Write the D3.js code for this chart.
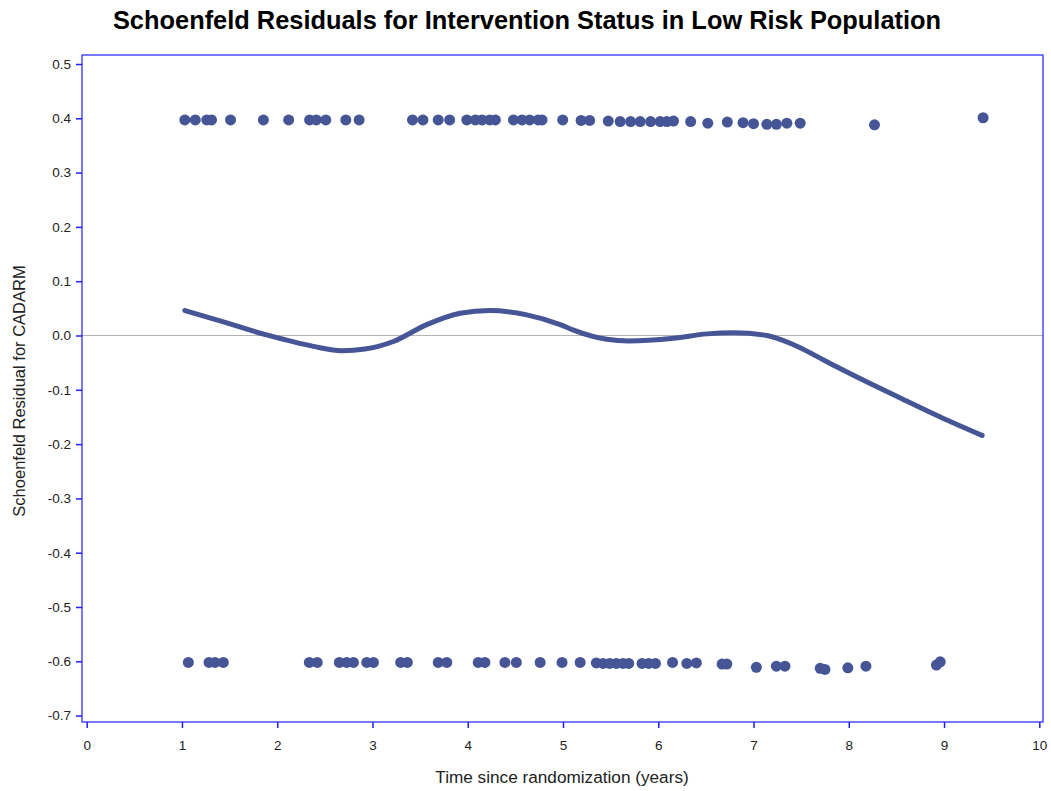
<!DOCTYPE html>
<html>
<head>
<meta charset="utf-8">
<script src="https://cdn.jsdelivr.net/npm/d3@7"></script>
<style>
  body { margin: 0; background: #fff; }
  text { font-family: "Liberation Sans", Arial, sans-serif; }
</style>
</head>
<body>
<div id="chart"></div>
<script>
const width = 1051;
const height = 791;

// residuals at +0.4 (intervention events)
const topTimes = [1.03, 1.14, 1.26, 1.31, 1.51, 1.855, 2.12, 2.34, 2.41, 2.51, 2.72, 2.86,
  3.42, 3.53, 3.69, 3.81, 3.99, 4.08, 4.15, 4.23, 4.29, 4.48, 4.57, 4.65, 4.74, 4.78, 4.997,
  5.19, 5.28, 5.475, 5.6, 5.71, 5.81, 5.92, 6.02, 6.09, 6.16, 6.34, 6.52, 6.725,
  6.89, 7.0, 7.14, 7.24, 7.35, 7.49, 8.27, 9.41];
const topResid = [0.397, 0.397, 0.397, 0.397, 0.397, 0.397, 0.397, 0.397, 0.397, 0.397, 0.397, 0.397,
  0.397, 0.397, 0.397, 0.397, 0.397, 0.397, 0.397, 0.397, 0.397, 0.397, 0.397, 0.397, 0.397, 0.397, 0.397,
  0.396, 0.396, 0.395, 0.394, 0.394, 0.394, 0.394, 0.394, 0.394, 0.395, 0.394, 0.391, 0.393,
  0.392, 0.39, 0.389, 0.389, 0.391, 0.391, 0.388, 0.401];

// residuals at -0.6 (control events)
const botTimes = [1.067, 1.284, 1.347, 1.434, 2.337, 2.42, 2.652, 2.73, 2.8, 2.94, 3.01,
  3.296, 3.366, 3.69, 3.78, 4.11, 4.18, 4.39, 4.51, 4.76, 4.99, 5.18, 5.35, 5.42, 5.49,
  5.56, 5.63, 5.69, 5.83, 5.9, 5.97, 6.15, 6.3, 6.4, 6.67, 6.72, 7.03, 7.24, 7.33,
  7.7, 7.75, 7.99, 8.18, 8.92, 8.96];
const botResid = [-0.602, -0.602, -0.602, -0.602, -0.602, -0.602, -0.602, -0.602, -0.602, -0.602, -0.602,
  -0.602, -0.602, -0.602, -0.602, -0.602, -0.602, -0.602, -0.602, -0.602, -0.602, -0.602, -0.603, -0.604, -0.604,
  -0.604, -0.604, -0.604, -0.604, -0.604, -0.604, -0.602, -0.604, -0.603, -0.605, -0.605, -0.611, -0.609, -0.609,
  -0.613, -0.615, -0.612, -0.609, -0.607, -0.601];

// loess smooth
const smoothTimes = [1.03, 1.4, 1.89, 2.38, 2.68, 2.92, 3.22, 3.57, 3.92, 4.23, 4.62, 4.97,
  5.11, 5.46, 5.69, 6.16, 6.51, 6.79, 7.14, 7.42, 7.8, 8.15, 8.54, 8.96, 9.4];
const smoothResid = [0.046, 0.027, 0.001, -0.02, -0.028, -0.025, -0.011, 0.02, 0.041, 0.046, 0.038, 0.02,
  0.01, -0.007, -0.01, -0.005, 0.003, 0.005, 0.0, -0.017, -0.051, -0.082, -0.115, -0.15, -0.184];

const xTicks = d3.range(0, 11, 1);
const yTicks = [0.5, 0.4, 0.3, 0.2, 0.1, 0.0, -0.1, -0.2, -0.3, -0.4, -0.5, -0.6, -0.7];

const frame = { left: 82, top: 55, right: 1043, bottom: 722 };
const markColor = '#455596';
const axisColor = '#2020ff';

const svg = d3.select('#chart').append('svg')
  .attr('width', width)
  .attr('height', height);

const x = d3.scaleLinear().domain([0, 10]).range([86.7, 1039.3]);
const y = d3.scaleLinear().domain([-0.7, 0.5]).range([715.6, 64.0]);

const fmt = v => (v < 0 ? '-' : '') + Math.abs(v).toFixed(1);

// zero reference line
svg.append('line')
  .attr('x1', frame.left).attr('x2', frame.right)
  .attr('y1', y(0)).attr('y2', y(0))
  .attr('stroke', '#b4b4b4').attr('stroke-width', 1.2);

// frame
svg.append('rect')
  .attr('x', frame.left).attr('y', frame.top)
  .attr('width', frame.right - frame.left)
  .attr('height', frame.bottom - frame.top)
  .attr('fill', 'none')
  .attr('stroke', axisColor).attr('stroke-width', 1.2);

// x axis
const gx = svg.append('g')
  .attr('transform', `translate(0,${frame.bottom})`)
  .call(d3.axisBottom(x).tickValues(xTicks).tickFormat(d3.format('d')).tickSize(6).tickSizeOuter(0).tickPadding(12));
gx.select('.domain').remove();
gx.selectAll('.tick line').attr('stroke', axisColor).attr('stroke-width', 1.5);
gx.selectAll('.tick text').attr('fill', '#222').attr('font-size', 13.5);

// y axis
const gy = svg.append('g')
  .attr('transform', `translate(${frame.left},0)`)
  .call(d3.axisLeft(y).tickValues(yTicks).tickFormat(fmt).tickSize(6).tickSizeOuter(0).tickPadding(5));
gy.select('.domain').remove();
gy.selectAll('.tick line').attr('stroke', axisColor).attr('stroke-width', 1.5);
gy.selectAll('.tick text').attr('fill', '#222').attr('font-size', 13.5);

// points
const pts = topTimes.map((t, i) => ({ t, r: topResid[i] }))
  .concat(botTimes.map((t, i) => ({ t, r: botResid[i] })));

svg.append('g').selectAll('circle')
  .data(pts)
  .join('circle')
  .attr('cx', d => x(d.t))
  .attr('cy', d => y(d.r))
  .attr('r', 5.5)
  .attr('fill', markColor);

// smooth curve
const smooth = smoothTimes.map((t, i) => ({ t, r: smoothResid[i] }));
svg.append('path')
  .datum(smooth)
  .attr('d', d3.line().x(d => x(d.t)).y(d => y(d.r)).curve(d3.curveMonotoneX))
  .attr('fill', 'none')
  .attr('stroke', markColor)
  .attr('stroke-width', 5)
  .attr('stroke-linecap', 'round');

// title
svg.append('text')
  .attr('x', 527).attr('y', 29)
  .attr('text-anchor', 'middle')
  .attr('font-size', 25.4).attr('font-weight', 'bold')
  .attr('fill', '#000')
  .text('Schoenfeld Residuals for Intervention Status in Low Risk Population');

// axis labels
svg.append('text')
  .attr('x', 562).attr('y', 783)
  .attr('text-anchor', 'middle')
  .attr('font-size', 17.2).attr('fill', '#222')
  .text('Time since randomization (years)');

svg.append('text')
  .attr('transform', 'translate(25,391) rotate(-90)')
  .attr('text-anchor', 'middle')
  .attr('font-size', 16.5).attr('fill', '#222')
  .text('Schoenfeld Residual for CADARM');
</script>
</body>
</html>
